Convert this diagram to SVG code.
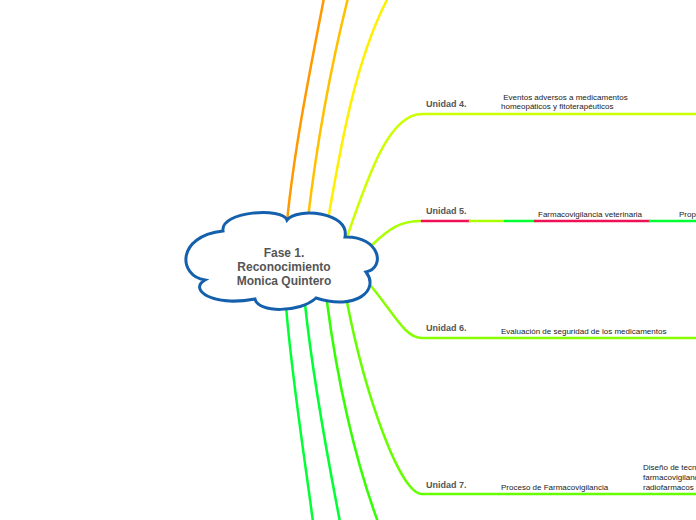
<svg xmlns="http://www.w3.org/2000/svg" width="696" height="520" viewBox="0 0 696 520">
<style>
.c{fill:none;stroke-width:2.5;stroke-linecap:round}
.lbl{font-family:"Liberation Sans",Arial,sans-serif;font-size:9px;font-weight:bold;fill:#555}
.sub{font-family:"Liberation Sans",Arial,sans-serif;font-size:8px;fill:#222}
.root{font-family:"Liberation Sans",Arial,sans-serif;font-size:12px;font-weight:bold;fill:#555;text-anchor:middle}
</style>
<rect width="696" height="520" fill="#fff"/>
<g id="connectors">
<path class="c" stroke="#ff9900" d="M287,222 C294,150 310,70 324,-2"/>
<path class="c" stroke="#ffc000" d="M308,218 C316,150 330,70 348,-2"/>
<path class="c" stroke="#fff000" d="M328,220 C340,150 355,60 388,-2"/>
<path class="c" stroke="#ccff00" d="M347,237 C370,170 390,114 422,114 L698,114"/>
<path class="c" stroke="#aaff00" d="M372,245 C390,228 400,221 422,221"/>
<path class="c" stroke="#ee1155" stroke-linecap="butt" d="M422,221 L470,221"/>
<path class="c" stroke="#aaff00" stroke-linecap="butt" d="M470,221 L505,221"/>
<path class="c" stroke="#00ff33" stroke-linecap="butt" d="M505,221 L535,221"/>
<path class="c" stroke="#ee1155" stroke-linecap="butt" d="M535,221 L650,221"/>
<path class="c" stroke="#00ff33" stroke-linecap="butt" d="M650,221 L698,221"/>
<path class="c" stroke="#88ff00" d="M371,286 C395,315 405,338 422,338 L698,338"/>
<path class="c" stroke="#66ff00" d="M347,302 C365,395 400,494 422,494 L698,494"/>
<path class="c" stroke="#33ff00" d="M327,302 C337,380 355,460 378,522"/>
<path class="c" stroke="#00ff33" d="M305,304 C313,380 328,460 340,522"/>
<path class="c" stroke="#00ff33" d="M286,306 C292,380 305,460 313,522"/>
</g>
<g id="root">
<path d="M223,231 C220,211 283,207 287,220 C297,207 350,212 345,237 C380,236 386,268 366,272 C380,290 356,311 316,298 C300,313 258,313 255,299 C213,307 188,290 205,280 C178,276 176,236 223,231 Z" fill="#fff" stroke="#1560ac" stroke-width="3"/>
<text class="root" x="284" y="257">Fase 1.</text>
<text class="root" x="284" y="271">Reconocimiento</text>
<text class="root" x="284" y="285">Monica Quintero</text>
</g>
<g id="unidad4">
<text class="lbl" x="426" y="107">Unidad 4.</text>
<text class="sub" x="501" y="100" xml:space="preserve"> Eventos adversos a medicamentos</text>
<text class="sub" x="501" y="109">homeopáticos y fitoterapéuticos</text>
</g>
<g id="unidad5">
<text class="lbl" x="426" y="214">Unidad 5.</text>
<text class="sub" x="538" y="217">Farmacovigilancia veterinaria</text>
<text class="sub" x="679" y="217">Prop</text>
</g>
<g id="unidad6">
<text class="lbl" x="426" y="331">Unidad 6.</text>
<text class="sub" x="501" y="334">Evaluación de seguridad de los medicamentos</text>
</g>
<g id="unidad7">
<text class="lbl" x="426" y="488">Unidad 7.</text>
<text class="sub" x="501" y="490">Proceso de Farmacovigilancia</text>
<text class="sub" x="643" y="470">Diseño de tecn</text>
<text class="sub" x="643" y="480">farmacovigilanc</text>
<text class="sub" x="643" y="490">radiofarmacos y</text>
</g>
</svg>
